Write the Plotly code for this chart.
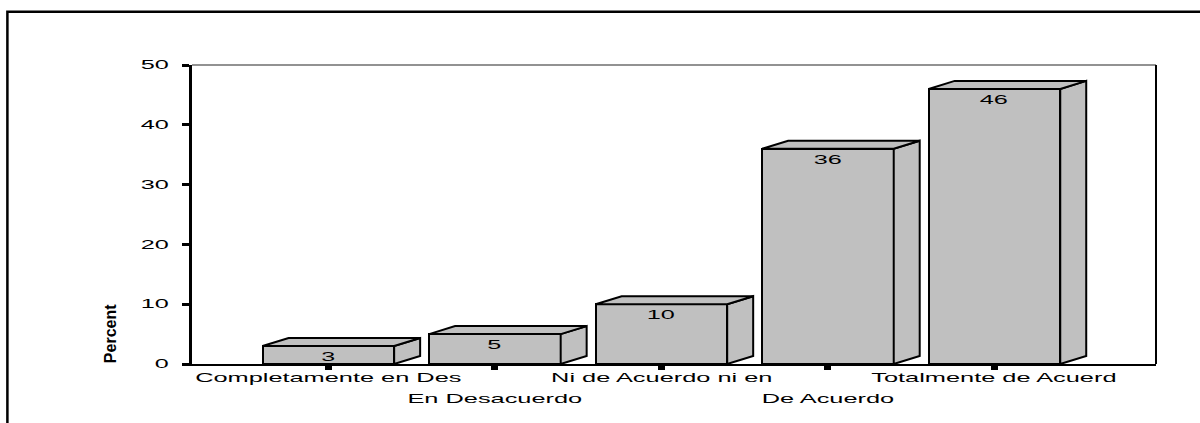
import plotly.graph_objects as go

# Survey response categories and their percentages
categories = [
    "Completamente en Des",
    "En Desacuerdo",
    "Ni de Acuerdo ni en",
    "De Acuerdo",
    "Totalmente de Acuerd",
]
percents = [3, 5, 10, 36, 46]
y_ticks = [0, 10, 20, 30, 40, 50]
y_title = "Percent"

# Geometry of the pseudo-3D boxes (data units)
BAR_WIDTH = 0.79
DEPTH_X = 0.156
DEPTH_Y = 1.34
FACE = "#c0c0c0"
FONT = "Liberation Sans, Arial, sans-serif"

x_pos = list(range(len(categories)))

fig = go.Figure()

# front faces
fig.add_bar(
    x=x_pos,
    y=percents,
    width=BAR_WIDTH,
    marker=dict(color=FACE, line=dict(color="black", width=2)),
    hoverinfo="skip",
    showlegend=False,
)

# top and side faces built from each bar's value
top_x, top_y, side_x, side_y = [], [], [], []
for xc, v in zip(x_pos, percents):
    x0 = xc - BAR_WIDTH / 2
    x1 = xc + BAR_WIDTH / 2
    top_x += [x0, x0 + DEPTH_X, x1 + DEPTH_X, x1, x0, None]
    top_y += [v, v + DEPTH_Y, v + DEPTH_Y, v, v, None]
    side_x += [x1, x1 + DEPTH_X, x1 + DEPTH_X, x1, x1, None]
    side_y += [0, DEPTH_Y, v + DEPTH_Y, v, 0, None]

for fx, fy in ((side_x, side_y), (top_x, top_y)):
    fig.add_scatter(
        x=fx, y=fy, mode="lines", fill="toself", fillcolor=FACE,
        line=dict(color="black", width=2), hoverinfo="skip", showlegend=False,
    )

annotations = []
# value labels inside the front face, near the top
for xc, v in zip(x_pos, percents):
    annotations.append(dict(
        x=xc, y=v, xref="x", yref="y", text=str(v), showarrow=False,
        yanchor="top", yshift=-2, font=dict(family=FONT, size=12, color="black"),
    ))
# staggered category labels
for i, (xc, lab) in enumerate(zip(x_pos, categories)):
    annotations.append(dict(
        x=xc, y=0, xref="x", yref="paper", text=lab, showarrow=False,
        yanchor="middle", yshift=-13 if i % 2 == 0 else -34,
        font=dict(family=FONT, size=13, color="black"),
    ))
# rotated axis title
annotations.append(dict(
    x=-0.085, y=0.1, xref="paper", yref="paper", text="<b>" + y_title + "</b>",
    showarrow=False, textangle=-90, xanchor="center", yanchor="middle",
    font=dict(family=FONT, size=16, color="black"),
))

shapes = [
    # outer frame (extends past the page edges)
    dict(type="rect", xref="paper", yref="paper", x0=-0.1915, x1=1.06, y0=-0.23, y1=1.178,
         line=dict(color="black", width=2.5), layer="below"),
    # top border of the plot area
    dict(type="line", xref="paper", yref="paper", x0=0, x1=1, y0=1, y1=1,
         line=dict(color="#6e6e6e", width=1.5)),
    # right border of the plot area
    dict(type="line", xref="paper", yref="paper", x0=1, x1=1, y0=0, y1=1,
         line=dict(color="black", width=2)),
]

fig.update_layout(
    width=1200,
    height=423,
    autosize=False,
    margin=dict(l=192, r=44, t=65, b=59),
    paper_bgcolor="white",
    plot_bgcolor="white",
    showlegend=False,
    bargap=0,
    annotations=annotations,
    shapes=shapes,
    xaxis=dict(
        range=[-0.819, 4.97],
        tickvals=x_pos,
        showticklabels=False,
        ticks="outside", ticklen=4, tickwidth=7, tickcolor="black",
        showline=True, linecolor="black", linewidth=2,
        showgrid=False, zeroline=False, fixedrange=True,
    ),
    yaxis=dict(
        range=[0, 50],
        tickvals=y_ticks,
        ticktext=[str(t) for t in y_ticks],
        ticks="outside", ticklen=7, tickwidth=2.5, tickcolor="black",
        ticklabelstandoff=11,
        tickfont=dict(family=FONT, size=12, color="black"),
        showline=True, linecolor="black", linewidth=2.5,
        showgrid=False, zeroline=False, fixedrange=True,
    ),
)

# widen the horizontal text the way the chart's typeface is drawn
widen_text = """
var gd = document.getElementById('{plot_id}');
function widen(t, k) {
  var w = t.getComputedTextLength();
  if (w > 0) {
    t.setAttribute('textLength', (w * k).toFixed(1));
    t.setAttribute('lengthAdjust', 'spacingAndGlyphs');
  }
}
gd.querySelectorAll('.ytick text').forEach(function (t) { widen(t, 2.1); });
gd.querySelectorAll('.annotation').forEach(function (a) {
  var g = a.querySelector('.annotation-text-g');
  var tr = (g && g.getAttribute('transform')) || '';
  var m = tr.match(/rotate\\(\\s*([-\\d.]+)/);
  if (m && parseFloat(m[1]) !== 0) return;
  var t = a.querySelector('text');
  if (!t) return;
  widen(t, /^\\d+$/.test(t.textContent) ? 2.1 : 1.95);
});
"""

fig.write_html("out.html", post_script=widen_text, config={"displayModeBar": False})
